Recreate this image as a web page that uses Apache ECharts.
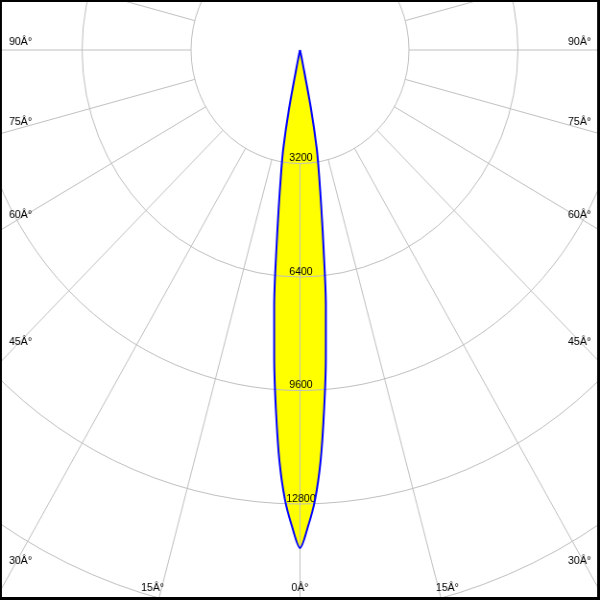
<!DOCTYPE html>
<html><head><meta charset="utf-8">
<script src="https://cdn.jsdelivr.net/npm/echarts@6/dist/echarts.min.js"></script>
<style>
html,body{margin:0;padding:0;background:#fff}
#wrap{width:600px;height:600px;overflow:hidden;position:relative;background:#fff}
#c{width:625px;height:600px;transform:scaleX(0.96);transform-origin:0 0}
</style>
</head><body><div id="wrap"><div id="c"></div></div>
<script>
// Gamma angles (deg from nadir) and luminous intensity (cd), symmetric beam
const gammaAngles = [0, 1, 2, 3, 4, 5, 6, 7, 8, 9, 10, 11, 12, 13];
const intensityCd = [14040, 13437, 12684, 11587, 10154, 8705, 7264, 5717, 4501, 3589, 2847, 1709, 300, 0];
// radial rings and their labels
const ringTickValues = [3200, 6400, 9600, 12800];
const RADIUS_STEP = 3200;
const RADIUS_MAX = 22400;
// angle tick labels
const angleTickValues = [0, 15, 30, 45, 60, 75, 90];
const angleTickLabels = ['0Â°', '15Â°', '30Â°', '45Â°', '60Â°', '75Â°', '90Â°'];

const SX = 0.96;                 // horizontal squeeze of the reference diagram
const FONT = 'Liberation Sans, Arial, sans-serif';
const GRID = '#c0c0c0';
const W0 = 600 / SX;             // inner (unsqueezed) canvas width
const CENTER = [W0 / 2, 50];
const RING_PX = 113.5;
const OUTER_R = RING_PX * RADIUS_MAX / RADIUS_STEP;

const curve = [];
for (let i = gammaAngles.length - 1; i > 0; i--) curve.push([intensityCd[i], 360 - gammaAngles[i]]);
for (let i = 0; i < gammaAngles.length; i++) curve.push([intensityCd[i], gammaAngles[i]]);

const chart = echarts.init(document.getElementById('c'), null, {renderer: 'canvas'});
const option = {
  backgroundColor: '#ffffff',
  animation: false,
  polar: [
    {center: CENTER, radius: [0, OUTER_R]},
    {center: CENTER, radius: [RING_PX, OUTER_R]}
  ],
  angleAxis: [
    {polarIndex: 0, type: 'value', min: 0, max: 360, startAngle: -90, clockwise: true,
     axisLine: {show: false}, axisTick: {show: false}, axisLabel: {show: false}, splitLine: {show: false}},
    {polarIndex: 1, type: 'value', min: 0, max: 360, interval: 15, startAngle: -90, clockwise: true, z: 2,
     axisLine: {show: false}, axisTick: {show: false}, axisLabel: {show: false},
     splitLine: {show: true, lineStyle: {color: GRID, width: 1}}}
  ],
  radiusAxis: [
    {polarIndex: 0, type: 'value', min: 0, max: RADIUS_MAX, interval: RADIUS_STEP, z: 2,
     axisLine: {show: false}, axisTick: {show: false},
     splitLine: {show: true, lineStyle: {color: GRID, width: 1}},
     axisLabel: {show: true, margin: 1, align: 'center', verticalAlign: 'bottom',
       color: '#000', fontSize: 11, fontFamily: FONT,
       formatter: v => ringTickValues.includes(v) ? String(v) : ''}},
    {polarIndex: 1, type: 'value', min: 0, max: RADIUS_MAX, interval: RADIUS_STEP,
     axisLine: {show: false}, axisTick: {show: false}, axisLabel: {show: false}, splitLine: {show: false}}
  ],
  series: [
    {type: 'line', coordinateSystem: 'polar', polarIndex: 0, data: curve, symbol: 'none', silent: true, z: 1,
     smooth: 0.3, lineStyle: {width: 0, opacity: 0}, areaStyle: {color: '#ffff00', opacity: 1}},
    {type: 'line', coordinateSystem: 'polar', polarIndex: 0, data: curve, symbol: 'none', silent: true, z: 3,
     smooth: 0.3, lineStyle: {color: '#0000ff', width: 2}}
  ]
};
chart.setOption(option);

// angle labels placed where each (circular) spoke meets the picture frame
const c0 = chart.convertToPixel({polarIndex: 0}, [0, 0]);
const sc = [c0[0] * SX, c0[1]];  // centre in screen space
const graphics = [];
angleTickValues.forEach((a, k) => {
  const sides = a === 0 ? [a] : [a, 360 - a];
  sides.forEach(v => {
    const p = chart.convertToPixel({polarIndex: 0}, [RADIUS_STEP, v]);
    const len = Math.hypot(p[0] - c0[0], p[1] - c0[1]);
    const dx = (p[0] - c0[0]) / len, dy = (p[1] - c0[1]) / len;
    const tx = dx < -1e-9 ? (0 - sc[0]) / dx : dx > 1e-9 ? (600 - sc[0]) / dx : Infinity;
    const ty = dy > 1e-9 ? (600 - sc[1]) / dy : Infinity;
    let xs, y, align;
    if (tx <= ty) {
      xs = dx < 0 ? 9 : 591; align = dx < 0 ? 'left' : 'right';
      y = sc[1] + tx * dy - 8.5;
    } else {
      xs = sc[0] + ty * dx; align = 'center'; y = 588;
    }
    graphics.push({type: 'text', x: xs / SX, y: y, z: 10,
      style: {text: angleTickLabels[k], fill: '#000', fontSize: 11, fontFamily: FONT, align: align, verticalAlign: 'middle'}});
  });
});
graphics.push({type: 'rect', z: 20, shape: {x: 0, y: 0, width: W0 - 1, height: 599},
  style: {fill: 'none', stroke: '#000', lineWidth: 4}});
chart.setOption({graphic: graphics});
</script>
</body></html>
